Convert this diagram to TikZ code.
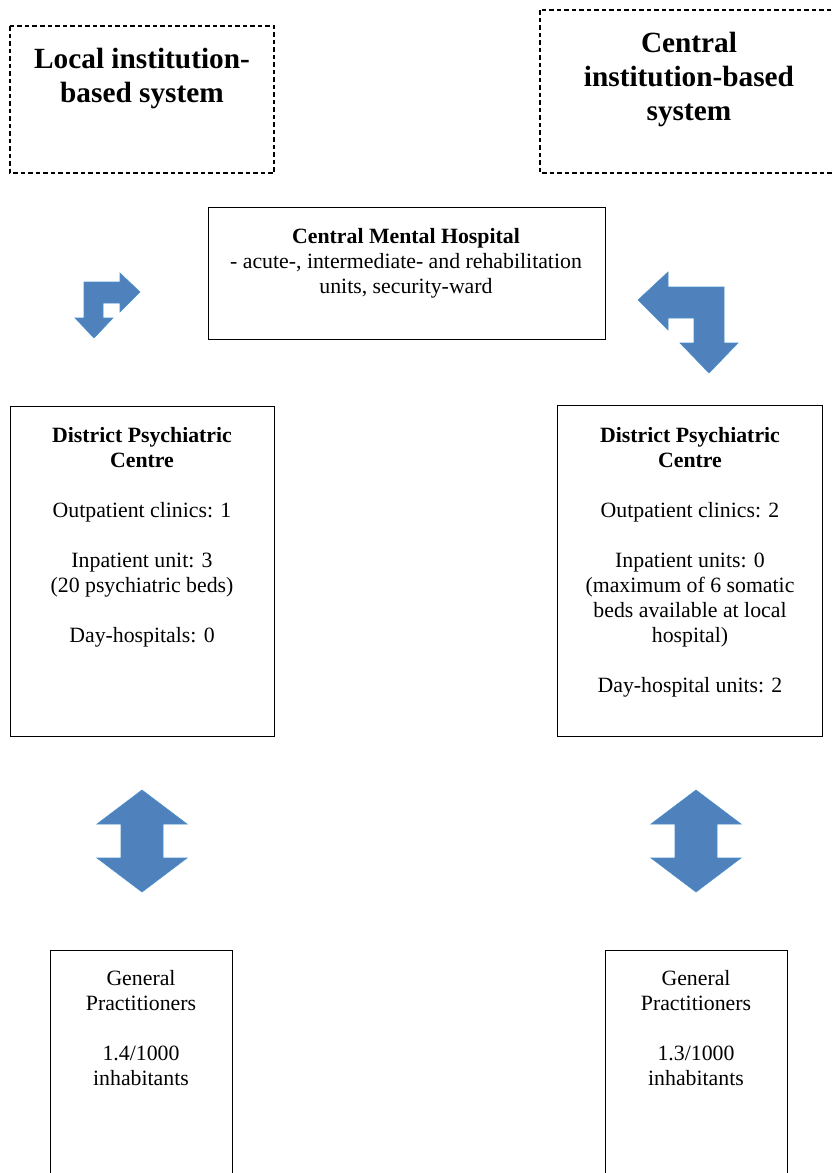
\documentclass[tikz,border=0pt]{standalone}
\usepackage{fontspec}
\setmainfont{Liberation Serif}
\newcommand\bodyfs{\fontsize{21.8}{25}\selectfont}
\newcommand\headfs{\fontsize{29.3}{34.2}\selectfont\bfseries}
\definecolor{arrowblue}{HTML}{4F81BD}
\definecolor{arrowedge}{HTML}{4A8FC9}
\tikzset{
  box/.style={draw=black, line width=1.4pt, inner sep=0pt, anchor=north west},
  dashbox/.style={draw=black, line width=1.3pt, dash pattern=on 4.5pt off 3pt},
  txt/.style={anchor=north, align=center, inner sep=0pt, font=\bodyfs},
  headtxt/.style={anchor=north, align=center, inner sep=0pt, font=\headfs},
  blockarrow/.style={fill=arrowblue, draw=arrowedge, line width=0.6pt, line join=miter}
}
\begin{document}
\begin{tikzpicture}[x=1pt,y=-1pt]
\useasboundingbox (0,0) rectangle (832,1173);
\clip (0,0) rectangle (832,1173);

% header boxes
\draw[dashbox] (10,26) rectangle (274,173);
\node[headtxt] (hL) at (142,48) {Local institution-\\based system};
\draw[dashbox] (540,10) rectangle (845,173);
\node[headtxt] (hR) at (689,32) {Central\\institution-based\\system};

% Central Mental Hospital
\node[box, minimum width=397pt, minimum height=132pt] (cmh) at (208,207) {};
\node[txt] (cmhT) at (406,228) {{\bfseries Central Mental Hospital}\\- acute-, intermediate- and rehabilitation\\units, security-ward};

% District Psychiatric Centres
\node[box, minimum width=264pt, minimum height=330pt] (dpcL) at (10,406) {};
\node[txt] (dpcLT) at (142,427) {{\bfseries District Psychiatric}\\{\bfseries Centre}\\[25pt]Outpatient clinics: 1\\[25pt]Inpatient unit: 3\\(20 psychiatric beds)\\[25pt]Day-hospitals: 0};
\node[box, minimum width=265pt, minimum height=331pt] (dpcR) at (557,405) {};
\node[txt] (dpcRT) at (690,427) {{\bfseries District Psychiatric}\\{\bfseries Centre}\\[25pt]Outpatient clinics: 2\\[25pt]Inpatient units: 0\\(maximum of 6 somatic\\beds available at local\\hospital)\\[25pt]Day-hospital units: 2};

% General Practitioners (boxes run off the bottom edge)
\node[box, minimum width=182pt, minimum height=260pt] (gpL) at (50,950) {};
\node[txt] (gpLT) at (141,970) {General\\Practitioners\\[25pt]1.4/1000\\inhabitants};
\node[box, minimum width=182pt, minimum height=260pt] (gpR) at (605,950) {};
\node[txt] (gpRT) at (696,970) {General\\Practitioners\\[25pt]1.3/1000\\inhabitants};

% block arrows
\fill[blockarrow] (84,282) -- (120,282) -- (120,273) -- (140,292) -- (120,312) -- (120,303) -- (103,303) -- (103,318) -- (113,318) -- (94,338) -- (75,318) -- (84,318) -- cycle;
\fill[blockarrow] (638,300) -- (668,272) -- (668,287) -- (724,287) -- (724,343) -- (738,343) -- (709,373) -- (680,343) -- (694,343) -- (694,318) -- (668,318) -- (668,330) -- cycle;
\foreach \cx in {142,696}{
  \fill[blockarrow] (\cx,790) -- (\cx+45,824) -- (\cx+21,824) -- (\cx+21,858) -- (\cx+45,858) -- (\cx,892) -- (\cx-45,858) -- (\cx-21,858) -- (\cx-21,824) -- (\cx-45,824) -- cycle;
}
\end{tikzpicture}
\end{document}
